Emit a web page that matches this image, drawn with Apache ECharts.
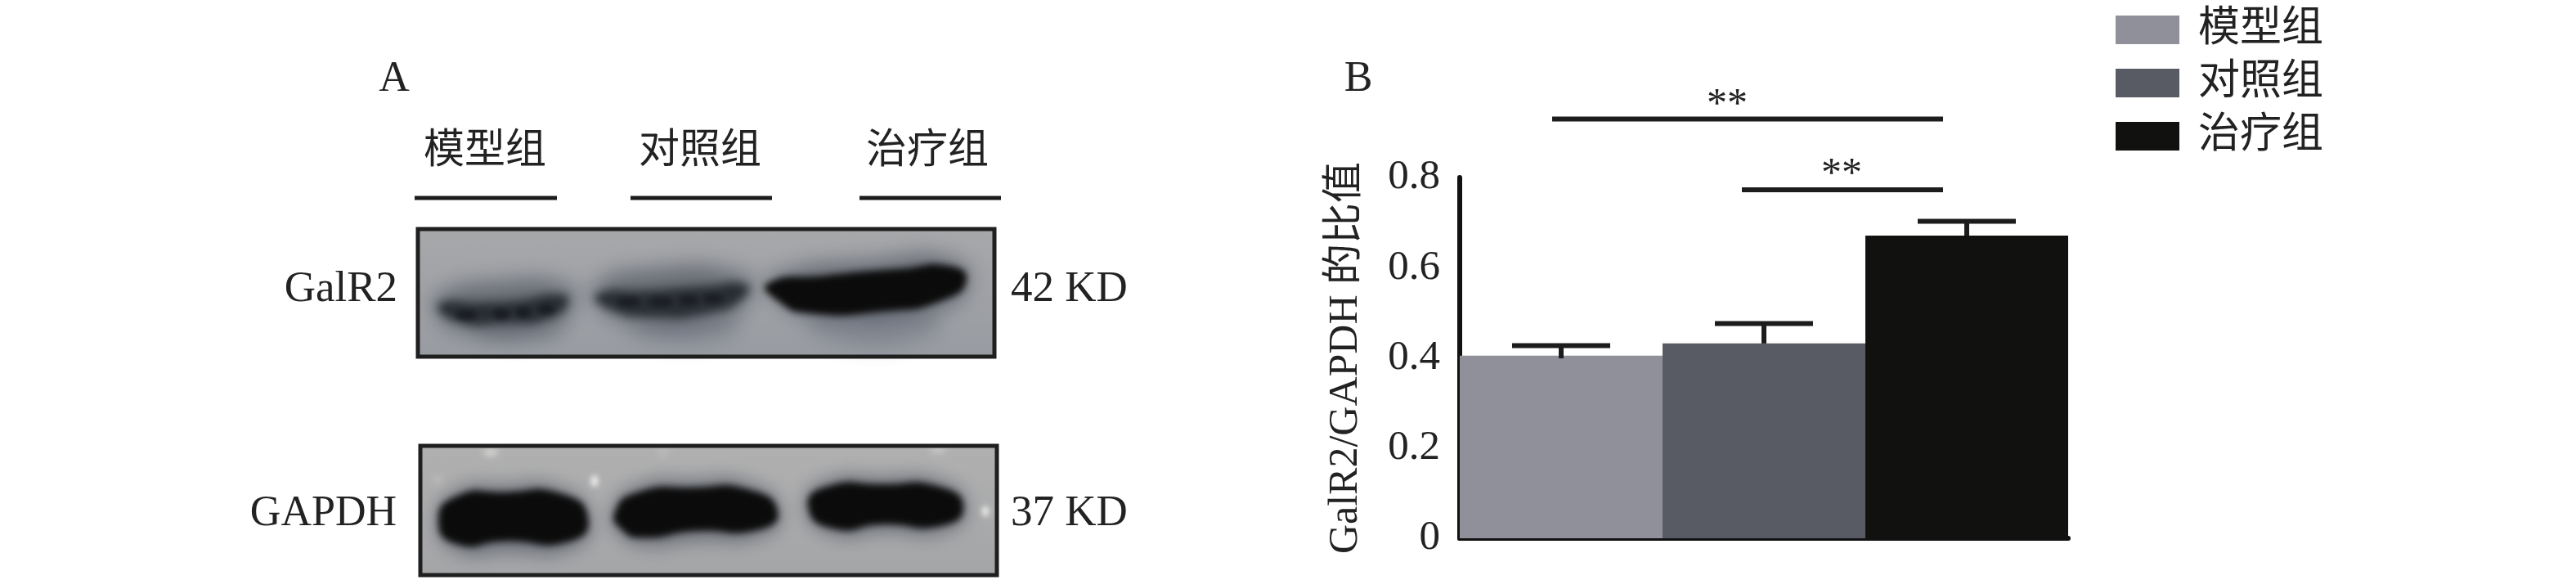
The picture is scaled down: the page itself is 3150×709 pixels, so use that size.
<!DOCTYPE html>
<html><head><meta charset="utf-8">
<style>html,body{margin:0;padding:0;background:#fff}#c{width:3150px;height:709px}</style>
<script src="https://cdn.jsdelivr.net/npm/echarts@6/dist/echarts.min.js"></script>
</head><body><div id="c"></div>
<script>
const groups = ['模型组','对照组','治疗组'];
const ratioValues = [0.405, 0.432, 0.671];
const errorTops = [0.427, 0.476, 0.703];
const errorBottoms = [0.399, 0.432, 0.671];
const barColors = ['#8f9099','#585b63','#111210'];
const yTicks = {min:0, max:0.8, interval:0.2};
const yTitle = 'GalR2/GAPDH 的比值';
const FONT = '"Liberation Serif","Noto Sans CJK SC",serif';
const INK = '#1c1c1c';
const OFF = 4000;

function txt(x,y,text,size,align){
  return {type:'text',z:20,style:{x,y,text,fill:'#222',font:`${size||50}px ${FONT}`,
    textAlign:align||'center',textVerticalAlign:'middle'}};
}
function bar(x1,x2,y,w){
  return {type:'line',z:20,shape:{x1,y1:y,x2,y2:y},style:{stroke:INK,lineWidth:w||5}};
}
// blot regions are sketched in the crop's own frame, then moved on to the page
const top3 = p=>[500+p[0]/2.156,270+p[1]/3];
const bot3 = p=>[500+p[0]/2.156,530+p[1]/3];
// a shape drawn off the canvas so that only its soft shadow lands on the page
function soft(map,pts,color,blur,z){
  return {type:'polygon',z:z||12,silent:true,
    shape:{points:pts.map(map).map(p=>[p[0]-OFF,p[1]]),smooth:0.6},
    style:{fill:'#000',shadowColor:color,shadowBlur:blur,shadowOffsetX:OFF,shadowOffsetY:0}};
}
function blob(cx,cy,rx,ry,color,blur,z){
  return {type:'ellipse',z:z||14,silent:true,shape:{cx:cx-OFF,cy,rx,ry},
    style:{fill:'#000',shadowColor:color,shadowBlur:blur,shadowOffsetX:OFF,shadowOffsetY:0}};
}
function frame(x,y,w,h,c0,c1){
  return [
    {type:'rect',z:10,silent:true,shape:{x,y,width:w,height:h},style:{
      fill:{type:'linear',x:0,y:0,x2:0,y2:1,colorStops:[{offset:0,color:c0},{offset:1,color:c1}]}}},
    {type:'rect',z:16,silent:true,shape:{x,y,width:w,height:h},style:{fill:'none',stroke:'#1f1f1f',lineWidth:5}}
  ];
}

const HALO='rgba(66,72,84,0.62)', SMEAR='rgba(92,100,116,0.42)';
const blots = [
  ...frame(511,280,705,156,'#a7a8aa','#989ba1'),
  // lower smears under each GalR2 band
  soft(top3,[[170,380],[390,380],[385,425],[175,425]],SMEAR,24,11),
  soft(top3,[[590,360],[850,350],[845,425],[600,425]],SMEAR,24,11),
  soft(top3,[[1070,330],[1380,320],[1365,425],[1085,425]],SMEAR,24,11),
  // halos
  soft(top3,[[70,280],[220,225],[430,245],[425,330],[370,395],[130,400],[75,340]],HALO,26,12),
  soft(top3,[[490,240],[620,180],[880,195],[900,280],[800,365],[570,365],[495,300]],HALO,26,12),
  soft(top3,[[950,210],[1250,140],[1430,140],[1475,230],[1385,325],[1070,345],[975,290]],HALO,26,12),
  // band cores
  soft(top3,[[80,305],[200,300],[300,290],[385,270],[420,290],[375,355],[250,375],[125,368]],'rgba(34,38,45,0.92)',12,13),
  soft(top3,[[495,270],[640,255],[780,240],[890,235],[875,290],[795,335],[640,352],[530,325]],'rgba(34,38,45,0.92)',12,13),
  soft(top3,[[945,230],[1100,200],[1300,175],[1425,165],[1470,215],[1410,290],[1250,332],[1050,338],[975,295]],'#0b0b0b',9,13),
  // mottling inside the weak bands
  blob(570,385,13,6,'rgba(18,20,24,0.7)',6), blob(613,384,10,6,'rgba(18,20,24,0.7)',6),
  blob(640,382,9,6,'rgba(18,20,24,0.7)',6), blob(668,378,10,6,'rgba(18,20,24,0.7)',6),
  blob(768,369,14,6,'rgba(18,20,24,0.6)',6), blob(808,369,14,6,'rgba(18,20,24,0.6)',6),
  blob(842,367,12,6,'rgba(18,20,24,0.6)',6), blob(872,365,12,6,'rgba(18,20,24,0.6)',6),

  ...frame(514,545,705,158,'#b0b0b0','#a4a5a7'),
  // GAPDH halos and cores
  soft(bot3,[[75,320],[125,210],[250,190],[400,200],[480,310],[435,420],[250,435],[125,430]],'rgba(70,76,88,0.6)',22,12),
  soft(bot3,[[535,290],[595,195],[750,170],[905,185],[980,285],[935,375],[750,395],[615,410],[550,360]],'rgba(70,76,88,0.6)',22,12),
  soft(bot3,[[1045,270],[1095,175],[1250,160],[1405,175],[1470,270],[1415,360],[1250,360],[1115,370]],'rgba(70,76,88,0.6)',22,12),
  soft(bot3,[[78,320],[125,230],[250,215],[405,222],[472,310],[425,395],[250,395],[125,405]],'#0b0b0b',9,13),
  soft(bot3,[[543,290],[598,218],[750,198],[902,208],[972,285],[925,352],[750,358],[615,382],[560,350]],'#0b0b0b',9,13),
  soft(bot3,[[1053,270],[1098,196],[1250,186],[1402,196],[1462,270],[1405,338],[1250,333],[1118,348]],'#0b0b0b',9,13),
  // bright specks
  blob(600,553,9,3,'rgba(240,240,236,0.9)',9), blob(727,588,4,7,'rgba(248,248,244,1)',7),
  blob(1147,550,10,2,'rgba(240,240,236,0.8)',8), blob(1205,625,4,6,'rgba(248,248,244,1)',7),
  blob(811,553,6,3,'rgba(220,220,216,0.5)',9), blob(535,587,3,6,'rgba(220,220,216,0.5)',8)
];

const labels = [
  txt(482,97,'A',52),
  txt(593,186,'模型组',50), txt(856,186,'对照组',50), txt(1134,186,'治疗组',50),
  bar(507,681,242), bar(771,944,242), bar(1051,1224,242),
  txt(486,354,'GalR2',53,'right'), txt(485,628,'GAPDH',52,'right'),
  txt(1236,354,'42 KD',53,'left'), txt(1236,628,'37 KD',53,'left'),
  txt(1661,97,'B',52),
  bar(1898,2376,145.5,6), bar(2130,2376,232,6),
  txt(2112,129,'**',50), txt(2252,214,'**',50)
];

const barSeries = groups.map((g,i)=>({
  name:g, type:'bar', stack:'all', barWidth:'100%', silent:true,
  itemStyle:{color:barColors[i]},
  data:groups.map((_,j)=> j===i ? ratioValues[i] : null)
}));

const errorSeries = {
  type:'custom', silent:true, z:5,
  data:groups.map((_,i)=>[i,errorBottoms[i],errorTops[i]]),
  encode:{x:0,y:[1,2]},
  renderItem(params,api){
    const low = api.coord([api.value(0),api.value(1)]);
    const high = api.coord([api.value(0),api.value(2)]);
    const st = {stroke:INK,lineWidth:6};
    return {type:'group',children:[
      {type:'line',shape:{x1:low[0],y1:low[1],x2:high[0],y2:high[1]},style:st},
      {type:'line',shape:{x1:high[0]-60,y1:high[1],x2:high[0]+60,y2:high[1]},style:st}
    ]};
  }
};

const chart = echarts.init(document.getElementById('c'),null,{renderer:'canvas'});
chart.setOption({
  animation:false,
  backgroundColor:'#fff',
  grid:{left:1785,right:621,top:217,bottom:51,containLabel:false},
  legend:{
    left:2587,top:11,padding:0,orient:'vertical',itemWidth:78,itemHeight:35,itemGap:14,
    icon:'rect',selectedMode:false,
    textStyle:{fontFamily:FONT,fontSize:51,color:'#222',padding:[0,0,0,18]},
    data:groups
  },
  xAxis:{type:'category',data:groups,
    axisLine:{lineStyle:{color:'#111',width:6}},axisTick:{show:false},axisLabel:{show:false}},
  yAxis:{type:'value',min:yTicks.min,max:yTicks.max,interval:yTicks.interval,
    name:yTitle,nameLocation:'middle',nameGap:114,nameRotate:90,
    nameTextStyle:{fontFamily:FONT,fontSize:50,color:'#222'},
    splitLine:{show:false},axisTick:{show:false},
    axisLine:{show:true,lineStyle:{color:'#111',width:6}},
    axisLabel:{fontFamily:FONT,fontSize:51,color:'#222',margin:24,
      formatter:v=>v===0?'0':v.toFixed(1)}},
  series:[...barSeries,errorSeries],
  graphic:[...blots,...labels]
});
</script></body></html>
